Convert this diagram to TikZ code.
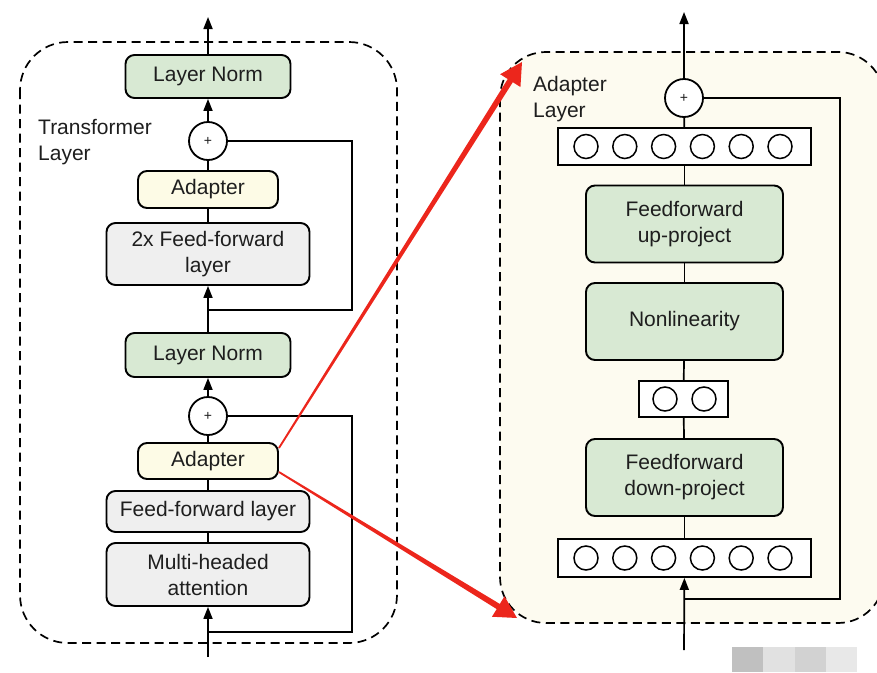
\documentclass[tikz,border=0pt]{standalone}
\usepackage{fontspec}
\setmainfont{Liberation Sans}
\usetikzlibrary{arrows.meta,calc}

\definecolor{boxgreen}{RGB}{216,233,211}
\definecolor{boxgray}{RGB}{239,239,239}
\definecolor{boxcream}{RGB}{253,251,230}
\definecolor{panelcream}{RGB}{253,251,240}
\definecolor{txt}{RGB}{30,30,30}
\definecolor{pointer}{RGB}{236,38,28}
\definecolor{tileA}{RGB}{192,192,192}
\definecolor{tileB}{RGB}{225,225,225}
\definecolor{tileC}{RGB}{210,210,210}
\definecolor{tileD}{RGB}{232,232,232}

\tikzset{
  block/.style={draw=black, line width=1.9pt, rounded corners=9pt, align=center,
    text=txt, font=\fontsize{21}{26}\selectfont, inner sep=0pt},
  normbox/.style={block, fill=boxgreen, minimum width=165pt},
  adapterbox/.style={block, fill=boxcream, minimum width=140pt},
  ffbox/.style={block, fill=boxgray, minimum width=203pt},
  projbox/.style={block, fill=boxgreen, minimum width=197pt, minimum height=77pt},
  sum/.style={circle, draw=black, line width=1.8pt, fill=white, minimum size=38pt,
    inner sep=0pt, text=txt, font=\fontsize{14}{14}\selectfont},
  layerbox/.style={draw=black, line width=1.8pt, fill=white, inner sep=0pt},
  neuron/.style={circle, draw=black, line width=1.5pt, minimum size=24pt, inner sep=0pt},
  link/.style={draw=black, line width=1.7pt},
  flow/.style={link, -{Triangle[length=12pt,width=9pt]}},
  frame/.style={draw=black, line width=1.7pt, dash pattern=on 9pt off 5.5pt},
  caption/.style={anchor=north west, align=left, inner sep=0pt, text=txt,
    font=\fontsize{21}{26}\selectfont}
}

% tapered red pointer from #1 to #2
\newcommand\redpointer[2]{%
  \coordinate (rpB) at ($(#2)!22pt!(#1)$);
  \fill[pointer] ($(#1)!0.9pt!90:(rpB)$) -- ($(rpB)!3pt!-90:(#1)$)
    -- ($(rpB)!12pt!-90:(#1)$) -- (#2) -- ($(rpB)!12pt!90:(#1)$)
    -- ($(rpB)!3pt!90:(#1)$) -- ($(#1)!0.9pt!-90:(rpB)$) -- cycle;}

\begin{document}
\begin{tikzpicture}[x=1pt, y=-1pt]
\useasboundingbox (0,0) rectangle (877,672);

% ---------- adapter layer panel ----------
\draw[frame, fill=panelcream, rounded corners=46pt] (500,52) rectangle (884,623);
\node[caption] (adcap) at (533,76) {Adapter\\Layer};

\node[sum] (plusR) at (684,98) {+};
\node[layerbox, minimum width=253pt, minimum height=37pt] (upper) at (684.5,146.5) {};
\foreach \k in {1,...,6}
  \node[neuron] (u\k) at ({586+38.8*(\k-1)},146.5) {};
\node[projbox] (up) at (684.5,224) {Feedforward\\up-project};
\node[projbox] (nonlin) at (684.5,321.5) {Nonlinearity};
\node[layerbox, minimum width=89pt, minimum height=36pt] (mid) at (683.5,399) {};
\node[neuron] (m1) at (665,399) {};
\node[neuron] (m2) at (704,399) {};
\node[projbox] (down) at (684.5,477.5) {Feedforward\\down-project};
\node[layerbox, minimum width=253pt, minimum height=38pt] (lower) at (684.5,558) {};
\foreach \k in {1,...,6}
  \node[neuron] (l\k) at ({586+38.8*(\k-1)},558) {};

\coordinate (outR) at (684,12);
\coordinate (inR) at (684,650);
\coordinate (skipR) at (840,98);
\coordinate (resR) at (684,599);
\draw[flow] (plusR) -- (outR);
\draw[link] (upper) -- (plusR);
\draw[link] (up) -- (upper);
\draw[link] (nonlin) -- (up);
\draw[link] (mid) -- (nonlin);
\draw[link] (down) -- (mid);
\draw[link] (lower) -- (down);
\draw[flow] (inR) -- (lower);
\draw[link] (plusR.east) -- (skipR) |- (resR);

% ---------- transformer layer ----------
\draw[frame, rounded corners=48pt] (20,42) rectangle (397,643);
\node[caption] (trcap) at (38,119) {Transformer\\Layer};

\node[normbox, minimum height=43pt] (ln1) at (208,76.5) {Layer Norm};
\node[sum] (plus1) at (208,141) {+};
\node[adapterbox, minimum height=37pt] (ad1) at (208,189.5) {Adapter};
\node[ffbox, minimum height=62pt] (ff2) at (208,254) {2x Feed-forward\\layer};
\node[normbox, minimum height=44pt] (ln2) at (208,355) {Layer Norm};
\node[sum] (plus2) at (208,416) {+};
\node[adapterbox, minimum height=36pt] (ad2) at (208,461) {Adapter};
\node[ffbox, minimum height=41pt] (ff1) at (208,511.5) {Feed-forward layer};
\node[ffbox, minimum height=63pt] (mha) at (208,574.5) {Multi-headed\\attention};

\coordinate (outL) at (208,17);
\coordinate (inL) at (208,657);
\coordinate (skip1) at (352,141);
\coordinate (res1) at (208,310);
\coordinate (skip2) at (352,416);
\coordinate (res2) at (208,632);

\draw[flow] (ln1) -- (outL);
\draw[flow] (plus1) -- (ln1);
\draw[link] (ad1) -- (plus1);
\draw[link] (ff2) -- (ad1);
\draw[flow] (ln2) -- (ff2);
\draw[link] (plus1.east) -- (skip1) |- (res1);
\draw[flow] (plus2) -- (ln2);
\draw[link] (ad2) -- (plus2);
\draw[link] (ff1) -- (ad2);
\draw[link] (mha) -- (ff1);
\draw[flow] (inL) -- (mha);
\draw[link] (plus2.east) -- (skip2) |- (res2);

% ---------- pointers from the adapter to the panel ----------
\coordinate (fromTop) at ($(ad2.east)+(0,-13)$);
\coordinate (fromBot) at ($(ad2.east)+(0,11)$);
\coordinate (toTop) at (522,62);
\coordinate (toBot) at (517,618);
\redpointer{fromTop}{toTop}
\redpointer{fromBot}{toBot}

% ---------- grey tiles, lower right ----------
\fill[tileA] (732,647) rectangle (763,672);
\fill[tileB] (763,647) rectangle (795,672);
\fill[tileC] (795,647) rectangle (826,672);
\fill[tileD] (826,647) rectangle (857,672);
\end{tikzpicture}
\end{document}
